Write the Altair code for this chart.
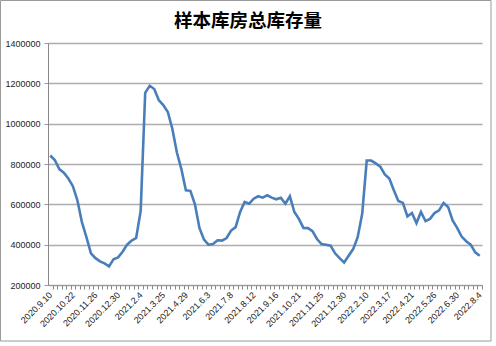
import json
import altair as alt
import pandas as pd

TITLE = "样本库房总库存量"

TICK_LABELS = [
    "2020.9.10", "2020.10.22", "2020.11.26", "2020.12.30", "2021.2.4",
    "2021.3.25", "2021.4.29", "2021.6.3", "2021.7.8", "2021.8.12",
    "2021.9.16", "2021.10.21", "2021.11.25", "2021.12.30", "2022.2.10",
    "2022.3.17", "2022.4.21", "2022.5.26", "2022.6.30", "2022.8.4",
]

INVENTORY = [
    842000, 820000, 775000, 757000, 728000, 690000, 620000, 512000, 437000, 357000,
    333000, 317000, 307000, 292000, 328000, 337000, 365000, 400000, 420000, 433000,
    567000, 1153000, 1188000, 1172000, 1117000, 1092000, 1058000, 975000, 858000, 775000,
    670000, 667000, 600000, 483000, 425000, 400000, 403000, 422000, 420000, 433000,
    470000, 487000, 562000, 612000, 603000, 628000, 640000, 633000, 645000, 633000,
    625000, 633000, 603000, 640000, 562000, 528000, 483000, 482000, 467000, 428000,
    403000, 400000, 395000, 357000, 333000, 312000, 345000, 378000, 437000, 553000,
    817000, 817000, 803000, 787000, 748000, 728000, 670000, 617000, 607000, 540000,
    557000, 507000, 562000, 517000, 528000, 557000, 570000, 607000, 587000, 520000,
    483000, 440000, 417000, 400000, 362000, 345000,
]

Y_TICKS = [200000, 400000, 600000, 800000, 1000000, 1200000, 1400000]

df = pd.DataFrame({"i": list(range(len(INVENTORY))), "v": INVENTORY})

W, H = 434, 242
n = len(INVENTORY)
step = W / n

label_expr = "datum.value % 5 == 0 ? " + json.dumps(TICK_LABELS) + "[datum.value / 5] : ''"

line = alt.Chart(df).mark_line(color="#4a7ebb", strokeWidth=2.6).encode(
    x=alt.X(
        "i:Q",
        scale=alt.Scale(domain=[-0.5, n - 0.5], nice=False, zero=False),
        axis=alt.Axis(
            values=list(range(n)),
            labelExpr=label_expr,
            labelAngle=-45,
            labelAlign="right",
            labelBaseline="middle",
            labelOverlap=False,
            labelFont="Liberation Sans",
            labelFontSize=9,
            labelColor="#222222",
            labelPadding=4,
            tickOffset=step / 2,
            labelOffset=-step / 2,
            tickSize=4,
            tickColor="#888888",
            domainColor="#999999",
            grid=False,
            title=None,
        ),
    ),
    y=alt.Y(
        "v:Q",
        scale=alt.Scale(domain=[200000, 1400000], nice=False, zero=False),
        axis=alt.Axis(
            values=Y_TICKS,
            format="d",
            labelFont="Liberation Sans",
            labelFontSize=9,
            labelColor="#222222",
            labelPadding=4,
            tickSize=4,
            tickColor="#999999",
            domainColor="#888888",
            gridColor="#adadad",
            gridWidth=1.4,
            title=None,
        ),
    ),
)

border = alt.Chart(pd.DataFrame({"a": [0]})).mark_rect(
    fill=None, stroke="#9a9a9a", strokeWidth=1, clip=False
).encode(
    x=alt.value(-47.5), x2=alt.value(W + 9), y=alt.value(-42.5), y2=alt.value(H + 56)
)

title = alt.Chart(pd.DataFrame({"t": [TITLE]})).mark_text(
    font="Noto Sans CJK SC",
    fontSize=18.5,
    fontWeight="bold",
    color="#000000",
    align="center",
    baseline="middle",
    clip=False,
).encode(
    text="t:N", x=alt.value(200), y=alt.value(-22)
)

chart = (
    alt.layer(border, line, title)
    .properties(
        width=W,
        height=H,
        autosize=alt.AutoSizeParams(type="none"),
        padding={"left": 48, "top": 43, "right": 14, "bottom": 61},
        background="white",
    )
    .configure_view(stroke=None)
)

chart.save("out.html", embed_options={"renderer": "svg", "actions": False})
